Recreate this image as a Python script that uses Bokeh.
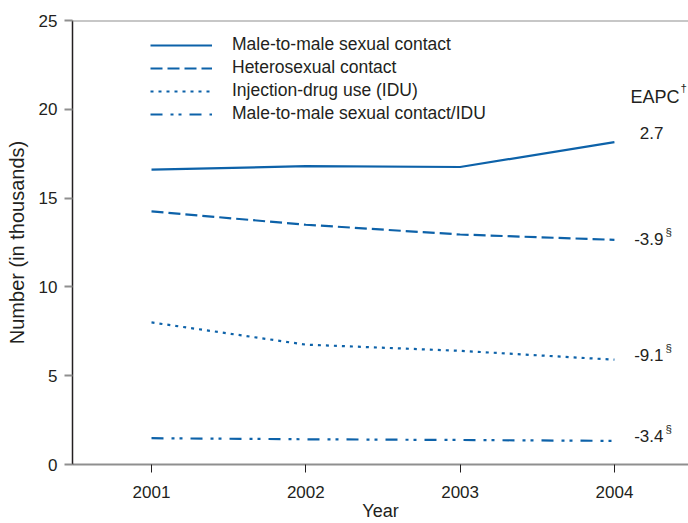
from bokeh.plotting import figure
from bokeh.models import Range1d, Legend, LegendItem, Label, Span, FixedTicker
from bokeh.embed import file_html
from bokeh.resources import INLINE

# ---- data ----
years = [2001, 2002, 2003, 2004]
msm = [16.6, 16.8, 16.75, 18.15]
hetero = [14.25, 13.5, 12.95, 12.65]
idu = [8.0, 6.75, 6.4, 5.9]
msm_idu = [1.48, 1.42, 1.38, 1.33]
series_names = ["Male-to-male sexual contact", "Heterosexual contact",
                "Injection-drug use (IDU)", "Male-to-male sexual contact/IDU"]
eapc = ["2.7", "-3.9", "-9.1", "-3.4"]
eapc_sup = ["", "§", "§", "§"]
y_ticks = [0, 5, 10, 15, 20, 25]

# ---- style ----
BLUE = "#0d62a9"
TXT = "#231f20"
GRAY = "#8f8f8f"
FONT = "Liberation Sans"
FS = "17px"

W, H = 688, 523
TOP, BOTTOM, LEFT = 20, 56, 72

p = figure(width=W, height=H, output_backend="svg", toolbar_location=None,
           x_range=Range1d(2000.488, 2004.48), y_range=Range1d(0, 25),
           min_border_left=LEFT, min_border_right=0, min_border_top=TOP,
           min_border_bottom=BOTTOM)
p.outline_line_color = None
p.xgrid.visible = False
p.ygrid.visible = False
p.background_fill_color = "white"
p.border_fill_color = "white"

dashes = ["solid", "12 5", "3 5", "12 8 3 5 3 8"]
renderers = []
for vals, dash in zip([msm, hetero, idu, msm_idu], dashes):
    r = p.line(years, vals, line_color=BLUE, line_width=2.2, line_dash=dash)
    renderers.append(r)

# top frame line
p.add_layout(Span(location=25, dimension="width", line_color=GRAY, line_width=2))

# axes
xa = p.xaxis[0]
xa.ticker = FixedTicker(ticks=years)
xa.axis_line_color = GRAY
xa.axis_line_width = 2
xa.major_tick_line_color = TXT
xa.major_tick_out = 8
xa.major_tick_in = 0
xa.minor_tick_line_color = None
xa.major_label_text_font = FONT
xa.major_label_text_font_size = FS
xa.major_label_text_color = TXT
xa.major_label_standoff = 13
xa.axis_label = "Year"
xa.axis_label_text_font = FONT
xa.axis_label_text_font_size = "18px"
xa.axis_label_text_font_style = "normal"
xa.axis_label_text_color = TXT
xa.axis_label_standoff = 0

ya = p.yaxis[0]
ya.ticker = FixedTicker(ticks=y_ticks)
ya.axis_line_color = TXT
ya.axis_line_width = 1.5
ya.major_tick_line_color = GRAY
ya.major_tick_line_width = 2
ya.major_tick_out = 8
ya.major_tick_in = 0
ya.minor_tick_line_color = None
ya.major_label_text_font = FONT
ya.major_label_text_font_size = FS
ya.major_label_text_color = TXT
ya.major_label_standoff = 7
ya.axis_label = "Number (in thousands)"
ya.axis_label_text_font = FONT
ya.axis_label_text_font_size = "20px"
ya.axis_label_text_font_style = "normal"
ya.axis_label_text_color = TXT
ya.axis_label_standoff = 8

# legend
frame_h = H - TOP - BOTTOM
legend = Legend(items=[LegendItem(label=n, renderers=[r]) for n, r in zip(series_names, renderers)],
                location=(78, frame_h - 107), orientation="vertical",
                glyph_width=62, glyph_height=20, label_height=20, label_width=10,
                label_standoff=20, spacing=2, padding=0, margin=0,
                background_fill_alpha=0, border_line_alpha=0,
                label_text_font=FONT, label_text_font_size="17.5px", label_text_color=TXT)
p.add_layout(legend, "center")

# EAPC annotations
label_y = [18.64, 12.7, 6.15, 1.63]
for txt, sup, yy in zip(eapc, eapc_sup, label_y):
    p.add_layout(Label(x=years[-1], y=yy, x_offset=49, text=txt, text_align="right",
                       text_baseline="middle", text_font=FONT, text_font_size=FS,
                       text_color=TXT))
    if sup:
        p.add_layout(Label(x=years[-1], y=yy, x_offset=51, y_offset=1, text=sup,
                           text_align="left", text_baseline="bottom", text_font=FONT,
                           text_font_size="11.5px", text_color=TXT))

p.add_layout(Label(x=years[-1], y=20.68, x_offset=65, text="EAPC", text_align="right",
                   text_baseline="middle", text_font=FONT, text_font_size="18px", text_color=TXT))
p.add_layout(Label(x=years[-1], y=20.68, x_offset=66, y_offset=3, text="†", text_align="left",
                   text_baseline="bottom", text_font=FONT, text_font_size="11.5px", text_color=TXT))

open("out.html", "w").write(file_html(p, INLINE))
